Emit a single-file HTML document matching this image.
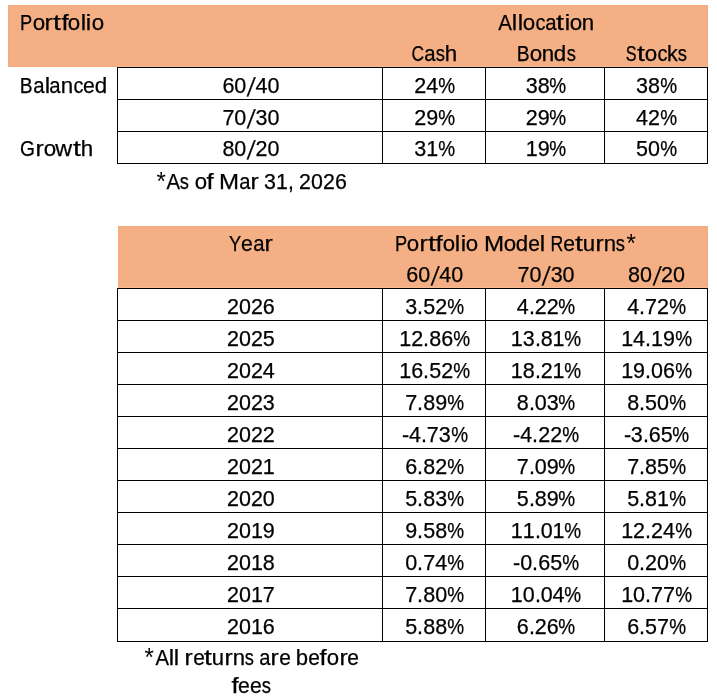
<!DOCTYPE html>
<html><head><meta charset="utf-8"><style>
html,body{margin:0;padding:0;background:#fff;}
body{width:717px;height:700px;position:relative;overflow:hidden;font-family:"Liberation Sans",sans-serif;font-size:21.50px;color:#000;}
.h{position:absolute;background:#F4B084;}
.k{position:absolute;background:#000;}
.t{position:absolute;height:0;white-space:nowrap;line-height:0;filter:grayscale(1);}
.t span{position:absolute;top:0;line-height:0;-webkit-text-stroke:0.25px #000;transform-origin:50% 0;}
</style></head><body>

<div class="h" style="left:8px;top:5px;width:698px;height:60px;border:1px solid #F1AB7C"></div>
<div class="h" style="left:118px;top:226px;width:588px;height:60px;border:1px solid #F1AB7C"></div>
<div style="position:absolute;left:117px;top:66px;width:591px;height:1px;background:#F8BC92"></div>
<div style="position:absolute;left:118px;top:287px;width:590px;height:1px;background:#F8BC92"></div>
<div class="k" style="left:117px;top:67px;width:591px;height:1px"></div>
<div class="k" style="left:117px;top:99px;width:591px;height:1px"></div>
<div class="k" style="left:117px;top:131px;width:591px;height:1px"></div>
<div class="k" style="left:117px;top:163px;width:591px;height:1px"></div>
<div class="k" style="left:117px;top:67px;width:1px;height:97px"></div>
<div class="k" style="left:382px;top:67px;width:1px;height:97px"></div>
<div class="k" style="left:485px;top:67px;width:1px;height:97px"></div>
<div class="k" style="left:604px;top:67px;width:1px;height:97px"></div>
<div class="k" style="left:707px;top:67px;width:1px;height:97px"></div>
<div class="k" style="left:117px;top:288px;width:591px;height:1px"></div>
<div class="k" style="left:117px;top:320px;width:591px;height:1px"></div>
<div class="k" style="left:117px;top:352px;width:591px;height:1px"></div>
<div class="k" style="left:117px;top:384px;width:591px;height:1px"></div>
<div class="k" style="left:117px;top:416px;width:591px;height:1px"></div>
<div class="k" style="left:117px;top:448px;width:591px;height:1px"></div>
<div class="k" style="left:117px;top:480px;width:591px;height:1px"></div>
<div class="k" style="left:117px;top:512px;width:591px;height:1px"></div>
<div class="k" style="left:117px;top:544px;width:591px;height:1px"></div>
<div class="k" style="left:117px;top:576px;width:591px;height:1px"></div>
<div class="k" style="left:117px;top:608px;width:591px;height:1px"></div>
<div class="k" style="left:117px;top:641px;width:591px;height:1px"></div>
<div class="k" style="left:117px;top:288px;width:1px;height:354px"></div>
<div class="k" style="left:382px;top:288px;width:1px;height:354px"></div>
<div class="k" style="left:485px;top:288px;width:1px;height:354px"></div>
<div class="k" style="left:604px;top:288px;width:1px;height:354px"></div>
<div class="k" style="left:707px;top:288px;width:1px;height:354px"></div>
<div class="t" style="left:20.20px;top:22.55px"><span style="left:-1.07px;transform:scaleX(0.850)">P</span><span style="left:12.43px;transform:scaleX(1.040)">o</span><span style="left:25.17px;transform:scaleX(1.150)">r</span><span style="left:33.83px;transform:scaleX(1.324)">t</span><span style="left:41.38px;transform:scaleX(1.205)">f</span><span style="left:48.21px;transform:scaleX(1.040)">o</span><span style="left:60.72px;transform:scaleX(1.131)">l</span><span style="left:66.12px;transform:scaleX(1.131)">i</span><span style="left:71.46px;transform:scaleX(1.040)">o</span></div>
<div class="t" style="left:498.34px;top:22.55px"><span style="left:-0.34px;transform:scaleX(0.952)">A</span><span style="left:13.97px;transform:scaleX(1.131)">l</span><span style="left:19.37px;transform:scaleX(1.131)">l</span><span style="left:24.70px;transform:scaleX(1.040)">o</span><span style="left:36.52px;transform:scaleX(0.929)">c</span><span style="left:46.56px;transform:scaleX(0.945)">a</span><span style="left:59.15px;transform:scaleX(1.324)">t</span><span style="left:66.41px;transform:scaleX(1.131)">i</span><span style="left:71.74px;transform:scaleX(1.040)">o</span><span style="left:84.15px;transform:scaleX(1.036)">n</span></div>
<div class="t" style="left:411.95px;top:53.55px"><span style="left:-1.47px;transform:scaleX(0.810)">C</span><span style="left:12.25px;transform:scaleX(0.945)">a</span><span style="left:23.12px;transform:scaleX(0.858)">s</span><span style="left:33.33px;transform:scaleX(1.036)">h</span></div>
<div class="t" style="left:516.46px;top:53.55px"><span style="left:-0.75px;transform:scaleX(0.895)">B</span><span style="left:13.08px;transform:scaleX(1.040)">o</span><span style="left:25.49px;transform:scaleX(1.036)">n</span><span style="left:37.88px;transform:scaleX(1.036)">d</span><span style="left:49.29px;transform:scaleX(0.858)">s</span></div>
<div class="t" style="left:625.94px;top:53.55px"><span style="left:-1.75px;transform:scaleX(0.755)">S</span><span style="left:11.80px;transform:scaleX(1.324)">t</span><span style="left:18.98px;transform:scaleX(1.040)">o</span><span style="left:30.79px;transform:scaleX(0.929)">c</span><span style="left:41.15px;transform:scaleX(0.999)">k</span><span style="left:51.14px;transform:scaleX(0.858)">s</span></div>
<div class="t" style="left:20.20px;top:85.55px"><span style="left:-0.75px;transform:scaleX(0.895)">B</span><span style="left:12.51px;transform:scaleX(0.945)">a</span><span style="left:24.46px;transform:scaleX(1.131)">l</span><span style="left:29.22px;transform:scaleX(0.945)">a</span><span style="left:41.07px;transform:scaleX(1.036)">n</span><span style="left:52.86px;transform:scaleX(0.929)">c</span><span style="left:63.12px;transform:scaleX(0.983)">e</span><span style="left:75.19px;transform:scaleX(1.036)">d</span></div>
<div class="t" style="left:222.42px;top:85.55px"><span style="left:0.00px;transform:scaleX(1.000)">6</span><span style="left:11.96px;transform:scaleX(1.000)">0</span><span style="left:25.50px;transform:translateY(1.40px) skewX(-9.0deg) scale(1.000,1.210)">/</span><span style="left:33.05px;transform:scaleX(1.000)">4</span><span style="left:45.01px;transform:scaleX(1.000)">0</span></div>
<div class="t" style="left:414.30px;top:85.55px"><span style="left:0.00px;transform:scaleX(1.000)">2</span><span style="left:11.96px;transform:scaleX(1.000)">4</span><span style="left:22.80px;transform:scaleX(0.882)">%</span></div>
<div class="t" style="left:525.70px;top:85.55px"><span style="left:0.00px;transform:scaleX(1.000)">3</span><span style="left:11.96px;transform:scaleX(1.000)">8</span><span style="left:22.80px;transform:scaleX(0.882)">%</span></div>
<div class="t" style="left:636.10px;top:85.55px"><span style="left:0.00px;transform:scaleX(1.000)">3</span><span style="left:11.96px;transform:scaleX(1.000)">8</span><span style="left:22.80px;transform:scaleX(0.882)">%</span></div>
<div class="t" style="left:222.42px;top:117.55px"><span style="left:0.00px;transform:scaleX(1.000)">7</span><span style="left:11.96px;transform:scaleX(1.000)">0</span><span style="left:25.50px;transform:translateY(1.40px) skewX(-9.0deg) scale(1.000,1.210)">/</span><span style="left:33.05px;transform:scaleX(1.000)">3</span><span style="left:45.01px;transform:scaleX(1.000)">0</span></div>
<div class="t" style="left:414.30px;top:117.55px"><span style="left:0.00px;transform:scaleX(1.000)">2</span><span style="left:11.96px;transform:scaleX(1.000)">9</span><span style="left:22.80px;transform:scaleX(0.882)">%</span></div>
<div class="t" style="left:525.70px;top:117.55px"><span style="left:0.00px;transform:scaleX(1.000)">2</span><span style="left:11.96px;transform:scaleX(1.000)">9</span><span style="left:22.80px;transform:scaleX(0.882)">%</span></div>
<div class="t" style="left:636.10px;top:117.55px"><span style="left:0.00px;transform:scaleX(1.000)">4</span><span style="left:11.96px;transform:scaleX(1.000)">2</span><span style="left:22.80px;transform:scaleX(0.882)">%</span></div>
<div class="t" style="left:20.20px;top:148.55px"><span style="left:-0.92px;transform:scaleX(0.890)">G</span><span style="left:15.43px;transform:scaleX(1.150)">r</span><span style="left:23.37px;transform:scaleX(1.040)">o</span><span style="left:36.24px;transform:scaleX(1.087)">w</span><span style="left:53.41px;transform:scaleX(1.324)">t</span><span style="left:60.56px;transform:scaleX(1.036)">h</span></div>
<div class="t" style="left:222.42px;top:148.55px"><span style="left:0.00px;transform:scaleX(1.000)">8</span><span style="left:11.96px;transform:scaleX(1.000)">0</span><span style="left:25.50px;transform:translateY(1.40px) skewX(-9.0deg) scale(1.000,1.210)">/</span><span style="left:33.05px;transform:scaleX(1.000)">2</span><span style="left:45.01px;transform:scaleX(1.000)">0</span></div>
<div class="t" style="left:414.30px;top:148.55px"><span style="left:0.00px;transform:scaleX(1.000)">3</span><span style="left:11.96px;transform:scaleX(1.000)">1</span><span style="left:22.80px;transform:scaleX(0.882)">%</span></div>
<div class="t" style="left:525.70px;top:148.55px"><span style="left:0.00px;transform:scaleX(1.000)">1</span><span style="left:11.96px;transform:scaleX(1.000)">9</span><span style="left:22.80px;transform:scaleX(0.882)">%</span></div>
<div class="t" style="left:636.10px;top:148.55px"><span style="left:0.00px;transform:scaleX(1.000)">5</span><span style="left:11.96px;transform:scaleX(1.000)">0</span><span style="left:22.80px;transform:scaleX(0.882)">%</span></div>
<div class="t" style="left:154.90px;top:181.55px"><span style="left:1.64px;transform:translateY(-0.20px) skewX(0.0deg) scale(1.120,1.220);-webkit-text-stroke:0">*</span><span style="left:11.26px;transform:scaleX(0.946)">A</span><span style="left:24.41px;transform:scaleX(0.852)">s</span><span style="left:39.86px;transform:scaleX(1.033)">o</span><span style="left:52.60px;transform:scaleX(1.197)">f</span><span style="left:65.52px;transform:scaleX(1.119)">M</span><span style="left:84.13px;transform:scaleX(0.939)">a</span><span style="left:96.23px;transform:scaleX(1.142)">r</span><span style="left:109.16px;transform:scaleX(0.993)">3</span><span style="left:121.03px;transform:scaleX(0.993)">1</span><span style="left:132.89px;transform:scaleX(0.979)">,</span><span style="left:144.05px;transform:scaleX(0.993)">2</span><span style="left:155.93px;transform:scaleX(0.993)">0</span><span style="left:167.81px;transform:scaleX(0.993)">2</span><span style="left:179.68px;transform:scaleX(0.993)">6</span></div>
<div class="t" style="left:229.16px;top:243.55px"><span style="left:-1.07px;transform:scaleX(0.850)">Y</span><span style="left:12.09px;transform:scaleX(0.983)">e</span><span style="left:23.62px;transform:scaleX(0.945)">a</span><span style="left:35.79px;transform:scaleX(1.150)">r</span></div>
<div class="t" style="left:395.00px;top:243.55px"><span style="left:-1.10px;transform:scaleX(0.847)">P</span><span style="left:12.36px;transform:scaleX(1.036)">o</span><span style="left:25.05px;transform:scaleX(1.146)">r</span><span style="left:33.68px;transform:scaleX(1.318)">t</span><span style="left:41.21px;transform:scaleX(1.200)">f</span><span style="left:47.99px;transform:scaleX(1.036)">o</span><span style="left:60.47px;transform:scaleX(1.127)">l</span><span style="left:65.85px;transform:scaleX(1.127)">i</span><span style="left:71.15px;transform:scaleX(1.036)">o</span><span style="left:89.72px;transform:scaleX(1.122)">M</span><span style="left:108.94px;transform:scaleX(1.036)">o</span><span style="left:121.31px;transform:scaleX(1.032)">d</span><span style="left:133.33px;transform:scaleX(0.979)">e</span><span style="left:145.46px;transform:scaleX(1.127)">l</span><span style="left:154.47px;transform:scaleX(0.822)">R</span><span style="left:168.49px;transform:scaleX(0.979)">e</span><span style="left:181.28px;transform:scaleX(1.318)">t</span><span style="left:188.39px;transform:scaleX(1.032)">u</span><span style="left:201.06px;transform:scaleX(1.146)">r</span><span style="left:208.94px;transform:scaleX(1.032)">n</span><span style="left:220.30px;transform:scaleX(0.855)">s</span><span style="left:231.93px;transform:translateY(-0.20px) skewX(0.0deg) scale(1.120,1.220);-webkit-text-stroke:0">*</span></div>
<div class="t" style="left:406.22px;top:274.55px"><span style="left:0.00px;transform:scaleX(1.000)">6</span><span style="left:11.96px;transform:scaleX(1.000)">0</span><span style="left:25.50px;transform:translateY(1.40px) skewX(-9.0deg) scale(1.000,1.210)">/</span><span style="left:33.05px;transform:scaleX(1.000)">4</span><span style="left:45.01px;transform:scaleX(1.000)">0</span></div>
<div class="t" style="left:517.62px;top:274.55px"><span style="left:0.00px;transform:scaleX(1.000)">7</span><span style="left:11.96px;transform:scaleX(1.000)">0</span><span style="left:25.50px;transform:translateY(1.40px) skewX(-9.0deg) scale(1.000,1.210)">/</span><span style="left:33.05px;transform:scaleX(1.000)">3</span><span style="left:45.01px;transform:scaleX(1.000)">0</span></div>
<div class="t" style="left:628.02px;top:274.55px"><span style="left:0.00px;transform:scaleX(1.000)">8</span><span style="left:11.96px;transform:scaleX(1.000)">0</span><span style="left:25.50px;transform:translateY(1.40px) skewX(-9.0deg) scale(1.000,1.210)">/</span><span style="left:33.05px;transform:scaleX(1.000)">2</span><span style="left:45.01px;transform:scaleX(1.000)">0</span></div>
<div class="t" style="left:226.98px;top:306.55px"><span style="left:0.00px;transform:scaleX(1.000)">2</span><span style="left:11.96px;transform:scaleX(1.000)">0</span><span style="left:23.92px;transform:scaleX(1.000)">2</span><span style="left:35.88px;transform:scaleX(1.000)">6</span></div>
<div class="t" style="left:405.35px;top:306.55px"><span style="left:0.00px;transform:scaleX(1.000)">3</span><span style="left:11.95px;transform:scaleX(0.997)">.</span><span style="left:17.92px;transform:scaleX(1.000)">5</span><span style="left:29.88px;transform:scaleX(1.000)">2</span><span style="left:40.71px;transform:scaleX(0.882)">%</span></div>
<div class="t" style="left:516.75px;top:306.55px"><span style="left:0.00px;transform:scaleX(1.000)">4</span><span style="left:11.95px;transform:scaleX(0.997)">.</span><span style="left:17.92px;transform:scaleX(1.000)">2</span><span style="left:29.88px;transform:scaleX(1.000)">2</span><span style="left:40.71px;transform:scaleX(0.882)">%</span></div>
<div class="t" style="left:627.15px;top:306.55px"><span style="left:0.00px;transform:scaleX(1.000)">4</span><span style="left:11.95px;transform:scaleX(0.997)">.</span><span style="left:17.92px;transform:scaleX(1.000)">7</span><span style="left:29.88px;transform:scaleX(1.000)">2</span><span style="left:40.71px;transform:scaleX(0.882)">%</span></div>
<div class="t" style="left:226.98px;top:338.55px"><span style="left:0.00px;transform:scaleX(1.000)">2</span><span style="left:11.96px;transform:scaleX(1.000)">0</span><span style="left:23.92px;transform:scaleX(1.000)">2</span><span style="left:35.88px;transform:scaleX(1.000)">5</span></div>
<div class="t" style="left:399.37px;top:338.55px"><span style="left:0.00px;transform:scaleX(1.000)">1</span><span style="left:11.96px;transform:scaleX(1.000)">2</span><span style="left:23.91px;transform:scaleX(0.997)">.</span><span style="left:29.88px;transform:scaleX(1.000)">8</span><span style="left:41.84px;transform:scaleX(1.000)">6</span><span style="left:52.67px;transform:scaleX(0.882)">%</span></div>
<div class="t" style="left:510.77px;top:338.55px"><span style="left:0.00px;transform:scaleX(1.000)">1</span><span style="left:11.96px;transform:scaleX(1.000)">3</span><span style="left:23.91px;transform:scaleX(0.997)">.</span><span style="left:29.88px;transform:scaleX(1.000)">8</span><span style="left:41.84px;transform:scaleX(1.000)">1</span><span style="left:52.67px;transform:scaleX(0.882)">%</span></div>
<div class="t" style="left:621.17px;top:338.55px"><span style="left:0.00px;transform:scaleX(1.000)">1</span><span style="left:11.96px;transform:scaleX(1.000)">4</span><span style="left:23.91px;transform:scaleX(0.997)">.</span><span style="left:29.88px;transform:scaleX(1.000)">1</span><span style="left:41.84px;transform:scaleX(1.000)">9</span><span style="left:52.67px;transform:scaleX(0.882)">%</span></div>
<div class="t" style="left:226.98px;top:370.55px"><span style="left:0.00px;transform:scaleX(1.000)">2</span><span style="left:11.96px;transform:scaleX(1.000)">0</span><span style="left:23.92px;transform:scaleX(1.000)">2</span><span style="left:35.88px;transform:scaleX(1.000)">4</span></div>
<div class="t" style="left:399.37px;top:370.55px"><span style="left:0.00px;transform:scaleX(1.000)">1</span><span style="left:11.96px;transform:scaleX(1.000)">6</span><span style="left:23.91px;transform:scaleX(0.997)">.</span><span style="left:29.88px;transform:scaleX(1.000)">5</span><span style="left:41.84px;transform:scaleX(1.000)">2</span><span style="left:52.67px;transform:scaleX(0.882)">%</span></div>
<div class="t" style="left:510.77px;top:370.55px"><span style="left:0.00px;transform:scaleX(1.000)">1</span><span style="left:11.96px;transform:scaleX(1.000)">8</span><span style="left:23.91px;transform:scaleX(0.997)">.</span><span style="left:29.88px;transform:scaleX(1.000)">2</span><span style="left:41.84px;transform:scaleX(1.000)">1</span><span style="left:52.67px;transform:scaleX(0.882)">%</span></div>
<div class="t" style="left:621.17px;top:370.55px"><span style="left:0.00px;transform:scaleX(1.000)">1</span><span style="left:11.96px;transform:scaleX(1.000)">9</span><span style="left:23.91px;transform:scaleX(0.997)">.</span><span style="left:29.88px;transform:scaleX(1.000)">0</span><span style="left:41.84px;transform:scaleX(1.000)">6</span><span style="left:52.67px;transform:scaleX(0.882)">%</span></div>
<div class="t" style="left:226.98px;top:402.55px"><span style="left:0.00px;transform:scaleX(1.000)">2</span><span style="left:11.96px;transform:scaleX(1.000)">0</span><span style="left:23.92px;transform:scaleX(1.000)">2</span><span style="left:35.88px;transform:scaleX(1.000)">3</span></div>
<div class="t" style="left:405.35px;top:402.55px"><span style="left:0.00px;transform:scaleX(1.000)">7</span><span style="left:11.95px;transform:scaleX(0.997)">.</span><span style="left:17.92px;transform:scaleX(1.000)">8</span><span style="left:29.88px;transform:scaleX(1.000)">9</span><span style="left:40.71px;transform:scaleX(0.882)">%</span></div>
<div class="t" style="left:516.75px;top:402.55px"><span style="left:0.00px;transform:scaleX(1.000)">8</span><span style="left:11.95px;transform:scaleX(0.997)">.</span><span style="left:17.92px;transform:scaleX(1.000)">0</span><span style="left:29.88px;transform:scaleX(1.000)">3</span><span style="left:40.71px;transform:scaleX(0.882)">%</span></div>
<div class="t" style="left:627.15px;top:402.55px"><span style="left:0.00px;transform:scaleX(1.000)">8</span><span style="left:11.95px;transform:scaleX(0.997)">.</span><span style="left:17.92px;transform:scaleX(1.000)">5</span><span style="left:29.88px;transform:scaleX(1.000)">0</span><span style="left:40.71px;transform:scaleX(0.882)">%</span></div>
<div class="t" style="left:226.98px;top:434.55px"><span style="left:0.00px;transform:scaleX(1.000)">2</span><span style="left:11.96px;transform:scaleX(1.000)">0</span><span style="left:23.92px;transform:scaleX(1.000)">2</span><span style="left:35.88px;transform:scaleX(1.000)">2</span></div>
<div class="t" style="left:401.73px;top:434.55px"><span style="left:0.03px;transform:scaleX(1.009)">-</span><span style="left:7.23px;transform:scaleX(1.000)">4</span><span style="left:19.18px;transform:scaleX(0.997)">.</span><span style="left:25.14px;transform:scaleX(1.000)">7</span><span style="left:37.11px;transform:scaleX(1.000)">3</span><span style="left:47.94px;transform:scaleX(0.882)">%</span></div>
<div class="t" style="left:513.13px;top:434.55px"><span style="left:0.03px;transform:scaleX(1.009)">-</span><span style="left:7.23px;transform:scaleX(1.000)">4</span><span style="left:19.18px;transform:scaleX(0.997)">.</span><span style="left:25.14px;transform:scaleX(1.000)">2</span><span style="left:37.11px;transform:scaleX(1.000)">2</span><span style="left:47.94px;transform:scaleX(0.882)">%</span></div>
<div class="t" style="left:623.53px;top:434.55px"><span style="left:0.03px;transform:scaleX(1.009)">-</span><span style="left:7.23px;transform:scaleX(1.000)">3</span><span style="left:19.18px;transform:scaleX(0.997)">.</span><span style="left:25.14px;transform:scaleX(1.000)">6</span><span style="left:37.11px;transform:scaleX(1.000)">5</span><span style="left:47.94px;transform:scaleX(0.882)">%</span></div>
<div class="t" style="left:226.98px;top:466.55px"><span style="left:0.00px;transform:scaleX(1.000)">2</span><span style="left:11.96px;transform:scaleX(1.000)">0</span><span style="left:23.92px;transform:scaleX(1.000)">2</span><span style="left:35.88px;transform:scaleX(1.000)">1</span></div>
<div class="t" style="left:405.35px;top:466.55px"><span style="left:0.00px;transform:scaleX(1.000)">6</span><span style="left:11.95px;transform:scaleX(0.997)">.</span><span style="left:17.92px;transform:scaleX(1.000)">8</span><span style="left:29.88px;transform:scaleX(1.000)">2</span><span style="left:40.71px;transform:scaleX(0.882)">%</span></div>
<div class="t" style="left:516.75px;top:466.55px"><span style="left:0.00px;transform:scaleX(1.000)">7</span><span style="left:11.95px;transform:scaleX(0.997)">.</span><span style="left:17.92px;transform:scaleX(1.000)">0</span><span style="left:29.88px;transform:scaleX(1.000)">9</span><span style="left:40.71px;transform:scaleX(0.882)">%</span></div>
<div class="t" style="left:627.15px;top:466.55px"><span style="left:0.00px;transform:scaleX(1.000)">7</span><span style="left:11.95px;transform:scaleX(0.997)">.</span><span style="left:17.92px;transform:scaleX(1.000)">8</span><span style="left:29.88px;transform:scaleX(1.000)">5</span><span style="left:40.71px;transform:scaleX(0.882)">%</span></div>
<div class="t" style="left:226.98px;top:498.55px"><span style="left:0.00px;transform:scaleX(1.000)">2</span><span style="left:11.96px;transform:scaleX(1.000)">0</span><span style="left:23.92px;transform:scaleX(1.000)">2</span><span style="left:35.88px;transform:scaleX(1.000)">0</span></div>
<div class="t" style="left:405.35px;top:498.55px"><span style="left:0.00px;transform:scaleX(1.000)">5</span><span style="left:11.95px;transform:scaleX(0.997)">.</span><span style="left:17.92px;transform:scaleX(1.000)">8</span><span style="left:29.88px;transform:scaleX(1.000)">3</span><span style="left:40.71px;transform:scaleX(0.882)">%</span></div>
<div class="t" style="left:516.75px;top:498.55px"><span style="left:0.00px;transform:scaleX(1.000)">5</span><span style="left:11.95px;transform:scaleX(0.997)">.</span><span style="left:17.92px;transform:scaleX(1.000)">8</span><span style="left:29.88px;transform:scaleX(1.000)">9</span><span style="left:40.71px;transform:scaleX(0.882)">%</span></div>
<div class="t" style="left:627.15px;top:498.55px"><span style="left:0.00px;transform:scaleX(1.000)">5</span><span style="left:11.95px;transform:scaleX(0.997)">.</span><span style="left:17.92px;transform:scaleX(1.000)">8</span><span style="left:29.88px;transform:scaleX(1.000)">1</span><span style="left:40.71px;transform:scaleX(0.882)">%</span></div>
<div class="t" style="left:226.98px;top:530.55px"><span style="left:0.00px;transform:scaleX(1.000)">2</span><span style="left:11.96px;transform:scaleX(1.000)">0</span><span style="left:23.92px;transform:scaleX(1.000)">1</span><span style="left:35.88px;transform:scaleX(1.000)">9</span></div>
<div class="t" style="left:405.35px;top:530.55px"><span style="left:0.00px;transform:scaleX(1.000)">9</span><span style="left:11.95px;transform:scaleX(0.997)">.</span><span style="left:17.92px;transform:scaleX(1.000)">5</span><span style="left:29.88px;transform:scaleX(1.000)">8</span><span style="left:40.71px;transform:scaleX(0.882)">%</span></div>
<div class="t" style="left:510.77px;top:530.55px"><span style="left:0.00px;transform:scaleX(1.000)">1</span><span style="left:11.96px;transform:scaleX(1.000)">1</span><span style="left:23.91px;transform:scaleX(0.997)">.</span><span style="left:29.88px;transform:scaleX(1.000)">0</span><span style="left:41.84px;transform:scaleX(1.000)">1</span><span style="left:52.67px;transform:scaleX(0.882)">%</span></div>
<div class="t" style="left:621.17px;top:530.55px"><span style="left:0.00px;transform:scaleX(1.000)">1</span><span style="left:11.96px;transform:scaleX(1.000)">2</span><span style="left:23.91px;transform:scaleX(0.997)">.</span><span style="left:29.88px;transform:scaleX(1.000)">2</span><span style="left:41.84px;transform:scaleX(1.000)">4</span><span style="left:52.67px;transform:scaleX(0.882)">%</span></div>
<div class="t" style="left:226.98px;top:562.55px"><span style="left:0.00px;transform:scaleX(1.000)">2</span><span style="left:11.96px;transform:scaleX(1.000)">0</span><span style="left:23.92px;transform:scaleX(1.000)">1</span><span style="left:35.88px;transform:scaleX(1.000)">8</span></div>
<div class="t" style="left:405.35px;top:562.55px"><span style="left:0.00px;transform:scaleX(1.000)">0</span><span style="left:11.95px;transform:scaleX(0.997)">.</span><span style="left:17.92px;transform:scaleX(1.000)">7</span><span style="left:29.88px;transform:scaleX(1.000)">4</span><span style="left:40.71px;transform:scaleX(0.882)">%</span></div>
<div class="t" style="left:513.13px;top:562.55px"><span style="left:0.03px;transform:scaleX(1.009)">-</span><span style="left:7.23px;transform:scaleX(1.000)">0</span><span style="left:19.18px;transform:scaleX(0.997)">.</span><span style="left:25.14px;transform:scaleX(1.000)">6</span><span style="left:37.11px;transform:scaleX(1.000)">5</span><span style="left:47.94px;transform:scaleX(0.882)">%</span></div>
<div class="t" style="left:627.15px;top:562.55px"><span style="left:0.00px;transform:scaleX(1.000)">0</span><span style="left:11.95px;transform:scaleX(0.997)">.</span><span style="left:17.92px;transform:scaleX(1.000)">2</span><span style="left:29.88px;transform:scaleX(1.000)">0</span><span style="left:40.71px;transform:scaleX(0.882)">%</span></div>
<div class="t" style="left:226.98px;top:594.55px"><span style="left:0.00px;transform:scaleX(1.000)">2</span><span style="left:11.96px;transform:scaleX(1.000)">0</span><span style="left:23.92px;transform:scaleX(1.000)">1</span><span style="left:35.88px;transform:scaleX(1.000)">7</span></div>
<div class="t" style="left:405.35px;top:594.55px"><span style="left:0.00px;transform:scaleX(1.000)">7</span><span style="left:11.95px;transform:scaleX(0.997)">.</span><span style="left:17.92px;transform:scaleX(1.000)">8</span><span style="left:29.88px;transform:scaleX(1.000)">0</span><span style="left:40.71px;transform:scaleX(0.882)">%</span></div>
<div class="t" style="left:510.77px;top:594.55px"><span style="left:0.00px;transform:scaleX(1.000)">1</span><span style="left:11.96px;transform:scaleX(1.000)">0</span><span style="left:23.91px;transform:scaleX(0.997)">.</span><span style="left:29.88px;transform:scaleX(1.000)">0</span><span style="left:41.84px;transform:scaleX(1.000)">4</span><span style="left:52.67px;transform:scaleX(0.882)">%</span></div>
<div class="t" style="left:621.17px;top:594.55px"><span style="left:0.00px;transform:scaleX(1.000)">1</span><span style="left:11.96px;transform:scaleX(1.000)">0</span><span style="left:23.91px;transform:scaleX(0.997)">.</span><span style="left:29.88px;transform:scaleX(1.000)">7</span><span style="left:41.84px;transform:scaleX(1.000)">7</span><span style="left:52.67px;transform:scaleX(0.882)">%</span></div>
<div class="t" style="left:226.98px;top:626.55px"><span style="left:0.00px;transform:scaleX(1.000)">2</span><span style="left:11.96px;transform:scaleX(1.000)">0</span><span style="left:23.92px;transform:scaleX(1.000)">1</span><span style="left:35.88px;transform:scaleX(1.000)">6</span></div>
<div class="t" style="left:405.35px;top:626.55px"><span style="left:0.00px;transform:scaleX(1.000)">5</span><span style="left:11.95px;transform:scaleX(0.997)">.</span><span style="left:17.92px;transform:scaleX(1.000)">8</span><span style="left:29.88px;transform:scaleX(1.000)">8</span><span style="left:40.71px;transform:scaleX(0.882)">%</span></div>
<div class="t" style="left:516.75px;top:626.55px"><span style="left:0.00px;transform:scaleX(1.000)">6</span><span style="left:11.95px;transform:scaleX(0.997)">.</span><span style="left:17.92px;transform:scaleX(1.000)">2</span><span style="left:29.88px;transform:scaleX(1.000)">6</span><span style="left:40.71px;transform:scaleX(0.882)">%</span></div>
<div class="t" style="left:627.15px;top:626.55px"><span style="left:0.00px;transform:scaleX(1.000)">6</span><span style="left:11.95px;transform:scaleX(0.997)">.</span><span style="left:17.92px;transform:scaleX(1.000)">5</span><span style="left:29.88px;transform:scaleX(1.000)">7</span><span style="left:40.71px;transform:scaleX(0.882)">%</span></div>
<div class="t" style="left:143.47px;top:657.55px"><span style="left:1.63px;transform:translateY(-0.20px) skewX(0.0deg) scale(1.120,1.220);-webkit-text-stroke:0">*</span><span style="left:11.24px;transform:scaleX(0.945)">A</span><span style="left:25.47px;transform:scaleX(1.122)">l</span><span style="left:30.83px;transform:scaleX(1.122)">l</span><span style="left:41.70px;transform:scaleX(1.141)">r</span><span style="left:49.22px;transform:scaleX(0.975)">e</span><span style="left:61.96px;transform:scaleX(1.313)">t</span><span style="left:69.03px;transform:scaleX(1.028)">u</span><span style="left:81.66px;transform:scaleX(1.141)">r</span><span style="left:89.49px;transform:scaleX(1.028)">n</span><span style="left:100.82px;transform:scaleX(0.852)">s</span><span style="left:115.69px;transform:scaleX(0.938)">a</span><span style="left:127.78px;transform:scaleX(1.141)">r</span><span style="left:135.30px;transform:scaleX(0.975)">e</span><span style="left:152.56px;transform:scaleX(1.028)">b</span><span style="left:164.54px;transform:scaleX(0.975)">e</span><span style="left:176.93px;transform:scaleX(1.195)">f</span><span style="left:183.68px;transform:scaleX(1.032)">o</span><span style="left:196.33px;transform:scaleX(1.141)">r</span><span style="left:203.85px;transform:scaleX(0.975)">e</span></div>
<div class="t" style="left:230.93px;top:685.55px"><span style="left:0.61px;transform:scaleX(1.205)">f</span><span style="left:7.10px;transform:scaleX(0.983)">e</span><span style="left:18.85px;transform:scaleX(0.983)">e</span><span style="left:29.94px;transform:scaleX(0.858)">s</span></div>
</body></html>
